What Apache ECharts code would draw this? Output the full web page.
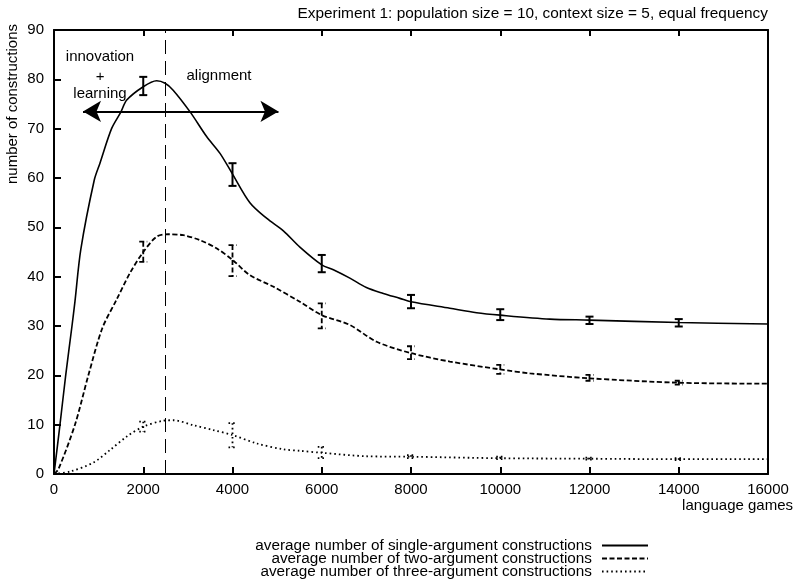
<!DOCTYPE html>
<html>
<head>
<meta charset="utf-8">
<script src="https://cdn.jsdelivr.net/npm/echarts@6/dist/echarts.min.js"></script>
<style>html,body{margin:0;padding:0;background:#fff}#c{width:796px;height:585px}</style>
</head>
<body>
<div id="c"></div>
<script>
// ---- data ----
const xTicks = [0, 2000, 4000, 6000, 8000, 10000, 12000, 14000, 16000];
const yTicks = [0, 10, 20, 30, 40, 50, 60, 70, 80, 90];
const seriesNames = [
  'average number of single-argument constructions',
  'average number of two-argument constructions',
  'average number of three-argument constructions'
];
const singleArg = [[0,0],[134,10],[262,20],[403,30],[470,35],[600,45.5],[900,59.5],[1030,63],[1290,70],[1500,73.4],[1630,75.8],[2000,78.5],[2300,79.7],[2490,79.2],[2670,77.8],[3050,73.4],[3420,68.4],[3720,65],[4000,60.8],[4390,55],[4770,51.8],[5140,49.3],[5510,46],[6000,42.4],[6260,41.4],[6630,39.7],[7000,37.8],[7380,36.6],[7750,35.6],[8000,34.9],[8870,33.6],[9470,32.7],[10000,32.2],[11110,31.4],[12000,31.2],[14000,30.7],[16000,30.4]];
const twoArg = [[0,0],[100,1],[470,10],[770,20],[1080,29.5],[1400,35.3],[1700,40.7],[2000,45],[2300,48.1],[2560,48.6],[2900,48.4],[3270,47.4],[3650,45.7],[4000,43.4],[4390,40.3],[4910,38],[5510,34.9],[6000,32.2],[6630,30.2],[7230,26.8],[8000,24.5],[8870,22.8],[10000,21.2],[10670,20.4],[12000,19.4],[14000,18.5],[16000,18.3]];
const threeArg = [[0,0],[360,0.5],[880,2.3],[1260,4.9],[1630,7.6],[2000,9.6],[2450,10.8],[2670,10.9],[3120,9.9],[3570,8.9],[4000,7.9],[4540,6.2],[5140,5.0],[5510,4.7],[6000,4.3],[7000,3.6],[8000,3.5],[10000,3.2],[12000,3.1],[14000,3.0],[16000,3.0]];
// error bars: [x, low, high]
const singleErr = [[2000,76.8,80.5],[4000,58.4,63],[6000,40.9,44.4],[8000,33.6,36.3],[10000,31.2,33.4],[12000,30.4,31.9],[14000,29.9,31.4]];
const twoErr = [[2000,43,47.1],[4000,40.1,46.4],[6000,29.5,34.6],[8000,23.3,25.9],[10000,20.3,22.1],[12000,18.9,20.1],[14000,18.1,18.9]];
const threeErr = [[2000,8.6,10.6],[4000,5.4,10.3],[6000,3.2,5.5],[8000,3.2,3.8],[10000,3.0,3.5],[12000,2.9,3.3],[14000,2.8,3.2]];
const phaseBoundary = 2500;
const arrowSpan = [[650, 73.5], [5030, 73.5]];
const annotations = [
  {name: 'innovation', coord: [1031, 84.6]},
  {name: '+', coord: [1031, 80.5]},
  {name: 'learning', coord: [1031, 77.0]},
  {name: 'alignment', coord: [3697, 80.7]}
];
const titleText = 'Experiment 1: population size = 10, context size = 5, equal frequency';
const xName = 'language games';
const yName = 'number of constructions';

// ---- styles ----
const FONT = 'Liberation Sans, Arial, Helvetica, sans-serif';
const styles = [
  {type: 'solid', width: 1.6, dash: null},
  {type: [5, 2.5], width: 1.8, dash: [5, 2.5]},
  {type: [1.6, 3], width: 1.8, dash: [1.6, 3]}
];
const errWidths = [2, 1.8, 1.8];

function makeErr(idx) {
  return function (params, api) {
    const x = api.value(0), lo = api.value(1), hi = api.value(2);
    const p1 = api.coord([x, hi]);
    const p2 = api.coord([x, lo]);
    const w = 4;
    const st = {stroke: '#000', lineWidth: errWidths[idx], fill: null};
    if (styles[idx].dash) st.lineDash = styles[idx].dash;
    return {
      type: 'group',
      children: [
        {type: 'line', shape: {x1: p1[0], y1: p1[1], x2: p2[0], y2: p2[1]}, style: st},
        {type: 'line', shape: {x1: p1[0] - w, y1: p1[1], x2: p1[0] + w, y2: p1[1]}, style: st},
        {type: 'line', shape: {x1: p2[0] - w, y1: p2[1], x2: p2[0] + w, y2: p2[1]}, style: st}
      ]
    };
  };
}

const lineData = [singleArg, twoArg, threeArg];
const errData = [singleErr, twoErr, threeErr];
const series = [];
lineData.forEach((d, i) => {
  series.push({
    name: seriesNames[i], type: 'line', data: d, symbol: 'none', smooth: 0.3,
    lineStyle: {color: '#000', width: styles[i].width, type: styles[i].type},
    itemStyle: {color: '#000'}, z: 3
  });
});
errData.forEach((d, i) => {
  series.push({
    name: 'err' + i, type: 'custom', data: d, renderItem: makeErr(i),
    encode: {x: 0, y: [1, 2]}, z: 4
  });
});
series.push({
  name: 'annot', type: 'line', data: [], symbol: 'none',
  markLine: {
    silent: true, animation: false, label: {show: false},
    data: [
      {xAxis: phaseBoundary, symbol: 'none', lineStyle: {color: '#000', width: 1, type: [14, 7]}},
      [
        {coord: arrowSpan[0], symbol: 'arrow', symbolSize: [16, 18]},
        {coord: arrowSpan[1], symbol: 'arrow', symbolSize: [16, 18], lineStyle: {color: '#000', width: 2, type: 'solid'}}
      ]
    ],
    symbol: ['none', 'none'],
    lineStyle: {color: '#000', width: 2, type: 'solid'}
  },
  markPoint: {
    silent: true, animation: false,
    symbol: 'circle', symbolSize: 0,
    label: {show: true, position: 'inside', formatter: '{b}', color: '#000', fontSize: 15, fontFamily: FONT},
    data: annotations.map(a => ({name: a.name, coord: a.coord}))
  }
});

const chart = echarts.init(document.getElementById('c'), null, {renderer: 'canvas'});
chart.setOption({
  animation: false,
  backgroundColor: '#fff',
  textStyle: {fontFamily: FONT},
  grid: {left: 54, right: 28, top: 30, bottom: 111, containLabel: false},
  legend: {
    data: seriesNames, orient: 'vertical', align: 'right',
    right: 147, top: 538, bottom: 0, padding: 0, itemGap: -2, itemWidth: 46, itemHeight: 2,
    itemStyle: {opacity: 0},
    textStyle: {fontSize: 15.3, color: '#000', lineHeight: 13, fontFamily: FONT, padding: [0, 5, 0, 0]},
    selectedMode: false
  },
  xAxis: [{
    type: 'value', min: xTicks[0], max: xTicks[xTicks.length - 1], interval: 2000,
    axisLine: {show: true, lineStyle: {color: '#000', width: 2}},
    axisTick: {show: true, inside: true, length: 7, lineStyle: {color: '#000', width: 2}},
    axisLabel: {color: '#000', fontSize: 15, margin: 8, fontFamily: FONT, formatter: v => String(v)},
    splitLine: {show: false}
  }, {
    type: 'value', position: 'top', min: xTicks[0], max: xTicks[xTicks.length - 1], interval: 2000,
    axisLine: {show: true, onZero: false, lineStyle: {color: '#000', width: 2}},
    axisTick: {show: true, inside: true, length: 6, lineStyle: {color: '#000', width: 2}},
    axisLabel: {show: false}, splitLine: {show: false}
  }],
  yAxis: [{
    type: 'value', min: yTicks[0], max: yTicks[yTicks.length - 1], interval: 10,
    axisLine: {show: true, lineStyle: {color: '#000', width: 2}},
    axisTick: {show: true, inside: true, length: 7, lineStyle: {color: '#000', width: 2}},
    axisLabel: {color: '#000', fontSize: 15, margin: 10, fontFamily: FONT, formatter: v => String(v)},
    splitLine: {show: false}
  }, {
    type: 'value', position: 'right', min: yTicks[0], max: yTicks[yTicks.length - 1], interval: 10,
    axisLine: {show: true, onZero: false, lineStyle: {color: '#000', width: 2}},
    axisTick: {show: false}, axisLabel: {show: false}, splitLine: {show: false}
  }],
  graphic: [
    {type: 'text', x: 768, y: 14, style: {text: titleText, fill: '#000', font: '15.4px ' + FONT, align: 'right', verticalAlign: 'middle'}},
    {type: 'text', x: 793, y: 506, style: {text: xName, fill: '#000', font: '15px ' + FONT, align: 'right', verticalAlign: 'middle'}},
    {type: 'text', x: 13, y: 104, rotation: Math.PI / 2, style: {text: yName, fill: '#000', font: '15px ' + FONT, align: 'center', verticalAlign: 'middle'}}
  ],
  series: series
});
</script>
</body>
</html>
